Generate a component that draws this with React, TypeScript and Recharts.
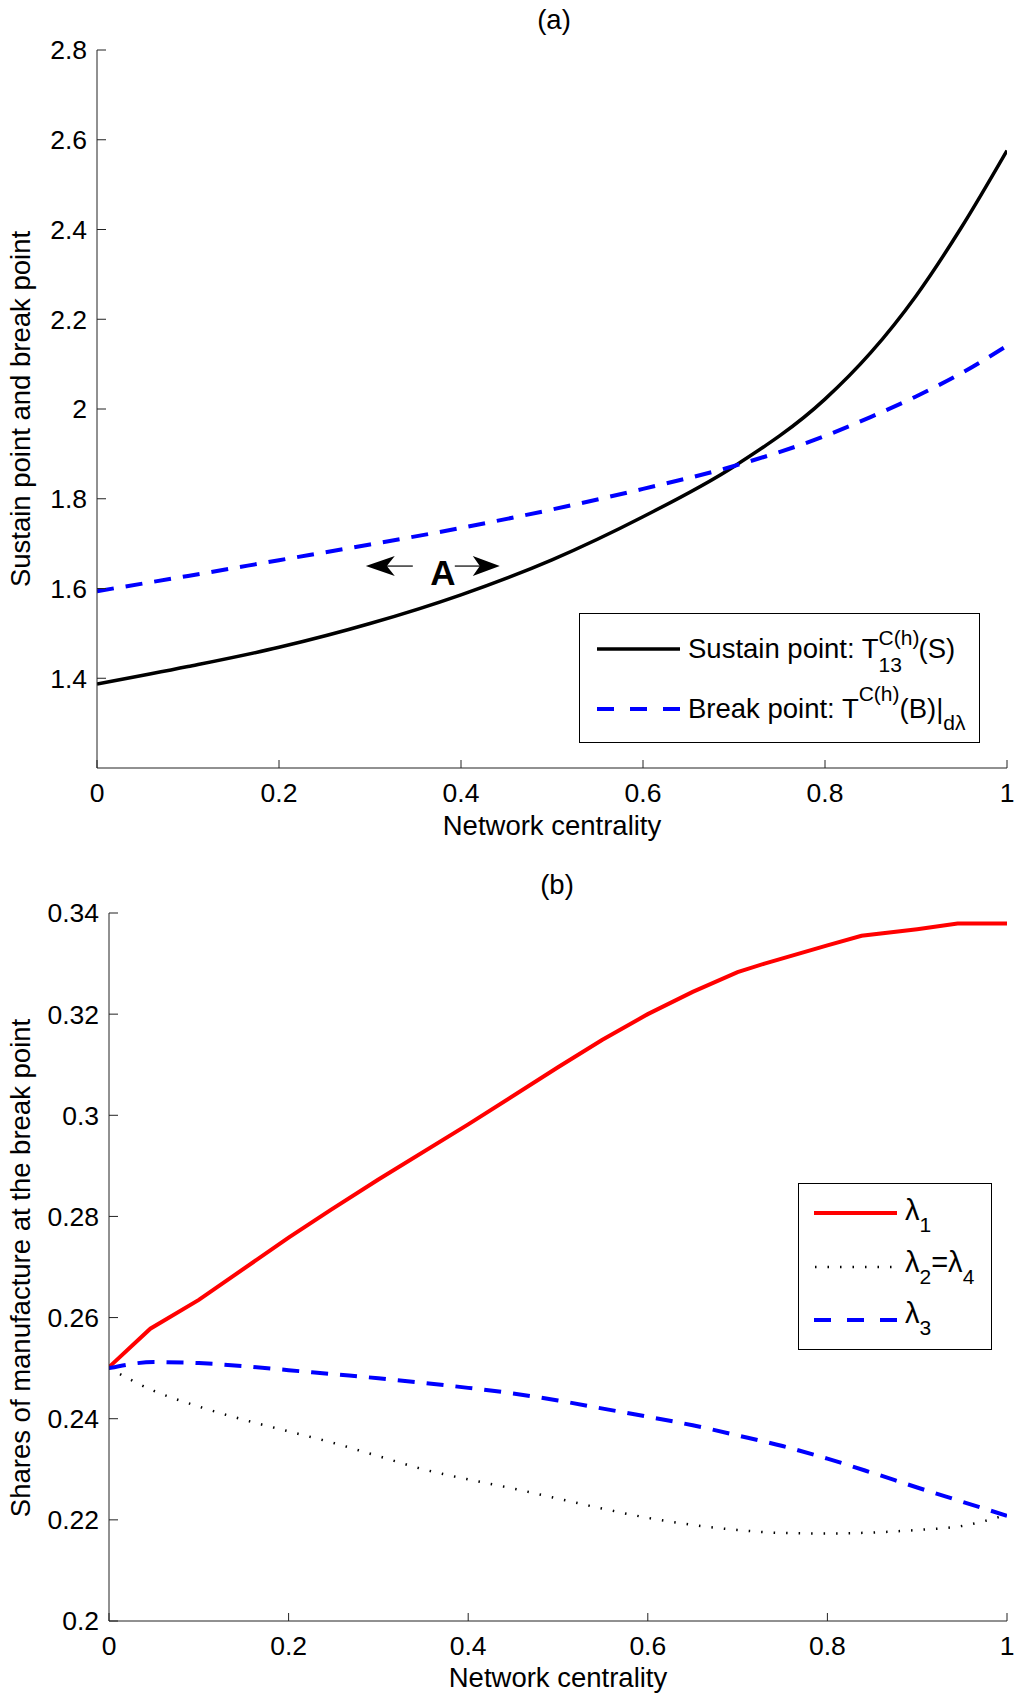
import React from 'react';
import { Line, LineChart, ReferenceDot, XAxis, YAxis } from 'recharts';

const FONT = '"Liberation Sans", Arial, Helvetica, sans-serif';
const AXIS = '#222';

// (a) sustain point vs break point
const CENTRALITY_A = [0, 0.1, 0.2, 0.3, 0.4, 0.5, 0.6, 0.7, 0.8, 0.85, 0.9, 0.95, 1];
const SUSTAIN = [1.387, 1.426, 1.469, 1.522, 1.586, 1.664, 1.76, 1.872, 2.022, 2.125, 2.252, 2.405, 2.576];
const BREAK = [1.594, 1.628, 1.663, 1.698, 1.735, 1.776, 1.822, 1.873, 1.94, 1.982, 2.028, 2.08, 2.141];
const TICKS_AX = [0, 0.2, 0.4, 0.6, 0.8, 1];
const TICKS_AY = [1.4, 1.6, 1.8, 2, 2.2, 2.4, 2.6, 2.8];

// (b) shares of manufacture
const CENTRALITY_L1 = [0, 0.046, 0.1, 0.2, 0.247, 0.3, 0.4, 0.5, 0.549, 0.6, 0.65, 0.7, 0.73, 0.8, 0.838, 0.9, 0.945, 1];
const LAMBDA1 = [0.2502, 0.2578, 0.2635, 0.2758, 0.2813, 0.2873, 0.2982, 0.3095, 0.3149, 0.32, 0.3244, 0.3283, 0.33, 0.3336, 0.3355, 0.3368, 0.3379, 0.3379];
const CENTRALITY_B = [0, 0.05, 0.1, 0.15, 0.2, 0.25, 0.3, 0.35, 0.4, 0.45, 0.5, 0.55, 0.6, 0.65, 0.7, 0.75, 0.8, 0.85, 0.9, 0.95, 1];
const LAMBDA24 = [0.25, 0.2455, 0.2424, 0.2398, 0.2375, 0.2352, 0.2326, 0.23, 0.228, 0.2262, 0.2242, 0.2222, 0.2204, 0.219, 0.218, 0.2174, 0.2173, 0.2175, 0.218, 0.2188, 0.221];
const LAMBDA3 = [0.25, 0.2512, 0.251, 0.2504, 0.2496, 0.2488, 0.248, 0.2471, 0.2461, 0.245, 0.2436, 0.242, 0.2404, 0.2387, 0.2367, 0.2346, 0.2321, 0.2293, 0.2264, 0.2236, 0.2208];
const TICKS_BX = [0, 0.2, 0.4, 0.6, 0.8, 1];
const TICKS_BY = [0.2, 0.22, 0.24, 0.26, 0.28, 0.3, 0.32, 0.34];

const dataA = CENTRALITY_A.map((x, i) => ({ x, sustain: SUSTAIN[i], brk: BREAK[i] }));
const dataL1 = CENTRALITY_L1.map((x, i) => ({ x, l1: LAMBDA1[i] }));
const dataB = CENTRALITY_B.map((x, i) => ({ x, l24: LAMBDA24[i], l3: LAMBDA3[i] }));

const tickStyle = { fill: '#000', fontSize: 26.5, fontFamily: FONT };

const txt = (extra: React.CSSProperties): React.CSSProperties => ({
  position: 'absolute',
  fontFamily: FONT,
  fontSize: 27.5,
  lineHeight: '28px',
  color: '#000',
  whiteSpace: 'nowrap',
  ...extra,
});

// the "<- A ->" marker, drawn around the dot position
function ArrowA(props: any) {
  const { cx, cy } = props;
  if (cx == null || cy == null) return null;
  return (
    <g>
      <line x1={cx - 58} y1={cy} x2={cx - 30} y2={cy} stroke="#000" strokeWidth={1.2} />
      <polygon
        points={`${cx - 77},${cy} ${cx - 48},${cy - 10} ${cx - 56},${cy} ${cx - 48},${cy + 10}`}
        fill="#000"
      />
      <text x={cx} y={cy + 19} textAnchor="middle" fontFamily={FONT} fontWeight="bold" fontSize={35}>
        A
      </text>
      <line x1={cx + 12} y1={cy} x2={cx + 38} y2={cy} stroke="#000" strokeWidth={1.2} />
      <polygon
        points={`${cx + 57},${cy} ${cx + 30},${cy - 10} ${cx + 37},${cy} ${cx + 30},${cy + 10}`}
        fill="#000"
      />
    </g>
  );
}

function LegendA() {
  return (
    <>
      <div style={{ position: 'absolute', left: 579, top: 613, width: 399, height: 128, border: '1.5px solid #000' }} />
      <svg style={{ position: 'absolute', left: 0, top: 0 }} width={1015} height={850}>
        <line x1={597} y1={649} x2={680} y2={649} stroke="#000" strokeWidth={3.5} />
        <line x1={597} y1={709} x2={680} y2={709} stroke="#0000ff" strokeWidth={4} strokeDasharray="17 16" />
      </svg>
      <div style={txt({ left: 688, top: 635 })}>
        Sustain point: T
        <span style={{ position: 'relative', display: 'inline-block', width: 40 }}>
          <span style={{ position: 'absolute', left: 0, bottom: 10, fontSize: 21, lineHeight: '21px' }}>C(h)</span>
          <span style={{ position: 'absolute', left: 0, bottom: -17, fontSize: 21, lineHeight: '21px' }}>13</span>
        </span>
        (S)
      </div>
      <div style={txt({ left: 688, top: 695 })}>
        Break point: T
        <span style={{ position: 'relative', top: -17, fontSize: 21 }}>C(h)</span>
        (B)|
        <span style={{ position: 'relative', top: 12, fontSize: 21 }}>dλ</span>
      </div>
    </>
  );
}

function LegendB() {
  const sub = (s: string) => (
    <span style={{ position: 'relative', top: 12, fontSize: 21 }}>{s}</span>
  );
  const row: React.CSSProperties = { fontSize: 29, lineHeight: '29px' };
  return (
    <>
      <div style={{ position: 'absolute', left: 798, top: 1183, width: 192, height: 165, border: '1.5px solid #000' }} />
      <svg style={{ position: 'absolute', left: 0, top: 850 }} width={1015} height={845}>
        <line x1={814} y1={363} x2={897} y2={363} stroke="#ff0000" strokeWidth={4} />
        <line x1={815} y1={417} x2={897} y2={417} stroke="#000" strokeWidth={2.5} strokeDasharray="1.5 11" />
        <line x1={814} y1={470} x2={897} y2={470} stroke="#0000ff" strokeWidth={4} strokeDasharray="17 16" />
      </svg>
      <div style={txt({ left: 905, top: 1196, ...row })}>λ{sub('1')}</div>
      <div style={txt({ left: 905, top: 1248, ...row })}>λ{sub('2')}=λ{sub('4')}</div>
      <div style={txt({ left: 905, top: 1299, ...row })}>λ{sub('3')}</div>
    </>
  );
}

export default function App() {
  return (
    <div style={{ position: 'absolute', left: 0, top: 0, width: 1015, height: 1695, background: '#fff' }}>
      <div style={{ position: 'absolute', left: 0, top: 0 }}>
        <LineChart width={1015} height={850} data={dataA} margin={{ top: 50, right: 8, bottom: 32, left: 0 }}>
          <XAxis
            type="number"
            dataKey="x"
            domain={[0, 1]}
            ticks={TICKS_AX}
            interval={0}
            height={50}
            stroke={AXIS}
            tickSize={-8}
            tickMargin={23}
            tick={tickStyle}
            allowDataOverflow
          />
          <YAxis
            type="number"
            domain={[1.2, 2.8]}
            ticks={TICKS_AY}
            interval={0}
            width={97}
            stroke={AXIS}
            tickSize={-9}
            tickMargin={19}
            tick={tickStyle}
            allowDataOverflow
          />
          <Line type="monotone" dataKey="sustain" stroke="#000" strokeWidth={3.5} dot={false} isAnimationActive={false} />
          <Line
            type="monotone"
            dataKey="brk"
            stroke="#0000ff"
            strokeWidth={4}
            strokeDasharray="17 12"
            dot={false}
            isAnimationActive={false}
          />
          <ReferenceDot x={0.38} y={1.65} r={0} shape={(p: any) => <ArrowA {...p} />} />
        </LineChart>
      </div>

      <div style={{ position: 'absolute', left: 0, top: 850 }}>
        <LineChart width={1015} height={845} margin={{ top: 63, right: 8, bottom: 24, left: 0 }}>
          <XAxis
            type="number"
            dataKey="x"
            domain={[0, 1]}
            ticks={TICKS_BX}
            interval={0}
            height={50}
            stroke={AXIS}
            tickSize={-8}
            tickMargin={23}
            tick={tickStyle}
            allowDataOverflow
          />
          <YAxis
            type="number"
            domain={[0.2, 0.34]}
            ticks={TICKS_BY}
            interval={0}
            width={109}
            stroke={AXIS}
            tickSize={-9}
            tickMargin={19}
            tick={tickStyle}
            allowDataOverflow
          />
          <Line data={dataL1} type="linear" dataKey="l1" stroke="#ff0000" strokeWidth={4} dot={false} isAnimationActive={false} />
          <Line
            data={dataB}
            type="monotone"
            dataKey="l24"
            stroke="#000"
            strokeWidth={2.5}
            strokeDasharray="1.5 11"
            dot={false}
            isAnimationActive={false}
          />
          <Line
            data={dataB}
            type="monotone"
            dataKey="l3"
            stroke="#0000ff"
            strokeWidth={4}
            strokeDasharray="17 12"
            dot={false}
            isAnimationActive={false}
          />
        </LineChart>
      </div>

      <div style={txt({ left: 554, top: 6, transform: 'translateX(-50%)' })}>(a)</div>
      <div style={txt({ left: 552, top: 812, transform: 'translateX(-50%)' })}>Network centrality</div>
      <div style={txt({ left: 21, top: 409, transform: 'translate(-50%, -50%) rotate(-90deg)' })}>
        Sustain point and break point
      </div>
      <LegendA />

      <div style={txt({ left: 557, top: 871, transform: 'translateX(-50%)' })}>(b)</div>
      <div style={txt({ left: 558, top: 1664, transform: 'translateX(-50%)' })}>Network centrality</div>
      <div style={txt({ left: 21, top: 1268, transform: 'translate(-50%, -50%) rotate(-90deg)' })}>
        Shares of manufacture at the break point
      </div>
      <LegendB />
    </div>
  );
}
